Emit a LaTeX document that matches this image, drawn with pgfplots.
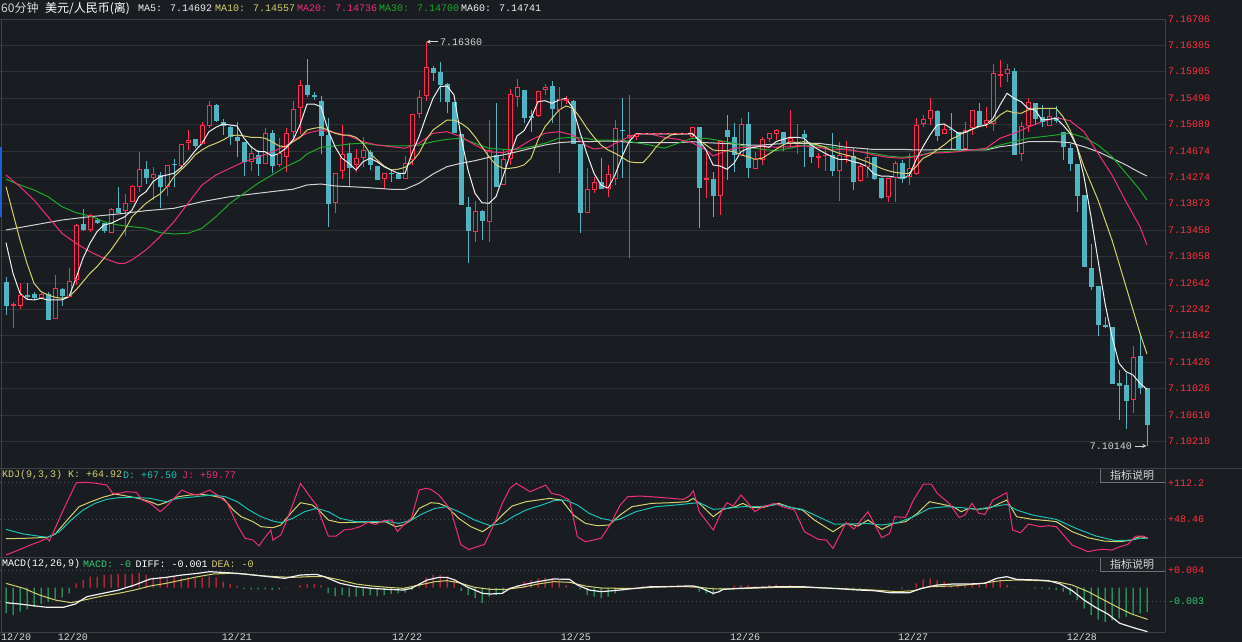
\documentclass[border=0pt]{standalone}
\usepackage{fontspec}
\usepackage{pgfplots}
\usepackage{pgfplotstable}
\pgfplotsset{compat=1.18}
\usetikzlibrary{arrows.meta}
\newfontfamily\mono{Liberation Mono}
\newfontfamily\cjk{Noto Sans CJK SC}

\definecolor{bg}{RGB}{25,28,33}
\definecolor{gridc}{RGB}{47,50,55}
\definecolor{dotc}{RGB}{72,75,80}
\definecolor{framec}{RGB}{62,65,71}
\definecolor{cred}{RGB}{255,45,75}
\definecolor{ccyan}{RGB}{80,180,193}
\definecolor{lblred}{RGB}{255,50,60}
\definecolor{mawhite}{RGB}{240,240,240}
\definecolor{mayel}{RGB}{212,208,112}
\definecolor{mapink}{RGB}{238,48,118}
\definecolor{magreen}{RGB}{32,168,42}
\definecolor{magray}{RGB}{210,210,210}
\definecolor{kdjd}{RGB}{28,192,180}
\definecolor{macdg}{RGB}{52,200,115}
\definecolor{macdr}{RGB}{255,48,60}
\definecolor{txtc}{RGB}{215,215,215}
\definecolor{bluemark}{RGB}{28,96,214}
\definecolor{btnbg}{RGB}{30,33,38}
\definecolor{btnline}{RGB}{110,112,116}

% 60-minute candles: index, open, high, low, close
\pgfplotstableread{
k o h l c
1 7.12658 7.12735 7.12155 7.12298
2 7.12298 7.12360 7.11950 7.12309
3 7.12298 7.12643 7.12247 7.12452
4 7.12455 7.12643 7.12397 7.12443
5 7.12474 7.12514 7.12386 7.12421
6 7.12421 7.12498 7.12401 7.12463
7 7.12478 7.12514 7.12078 7.12078
8 7.12098 7.12771 7.12098 7.12555
9 7.12555 7.12566 7.12298 7.12452
10 7.12437 7.12874 7.12437 7.12674
11 7.12694 7.13556 7.12617 7.13525
12 7.13560 7.13782 7.13452 7.13468
13 7.13468 7.13709 7.13428 7.13689
14 7.13613 7.13648 7.13556 7.13571
15 7.13571 7.13571 7.13412 7.13463
16 7.13422 7.13806 7.13422 7.13782
17 7.13802 7.14130 7.13720 7.13740
18 7.13760 7.14017 7.13371 7.13874
19 7.13899 7.14151 7.13899 7.14125
20 7.14130 7.14664 7.14053 7.14387
21 7.14402 7.14530 7.14171 7.14268
22 7.14274 7.14428 7.13925 7.14310
23 7.14310 7.14361 7.13806 7.14130
24 7.14130 7.14453 7.13991 7.14453
25 7.14479 7.14551 7.14130 7.14464
26 7.14459 7.14782 7.14387 7.14782
27 7.14813 7.15002 7.14695 7.14848
28 7.14864 7.14864 7.14721 7.14771
29 7.14798 7.15130 7.14798 7.15064
30 7.15075 7.15449 7.15038 7.15372
31 7.15387 7.15402 7.15121 7.15156
32 7.15130 7.15172 7.14925 7.15079
33 7.15044 7.15069 7.14771 7.14899
34 7.14899 7.15125 7.14591 7.14838
35 7.14822 7.14822 7.14299 7.14514
36 7.14514 7.14756 7.14371 7.14644
37 7.14618 7.14695 7.14299 7.14490
38 7.14490 7.15029 7.14479 7.14952
39 7.14952 7.15002 7.14336 7.14453
40 7.14474 7.14875 7.14438 7.14644
41 7.14591 7.15029 7.14361 7.14952
42 7.14982 7.15449 7.14848 7.15321
43 7.15352 7.15772 7.14941 7.15687
44 7.15695 7.16095 7.15515 7.15541
45 7.15541 7.15587 7.15464 7.15515
46 7.15449 7.15526 7.14633 7.14925
47 7.14925 7.15182 7.13514 7.13874
48 7.13883 7.14336 7.13730 7.14336
49 7.14376 7.15079 7.14244 7.14628
50 7.14644 7.14798 7.14141 7.14418
51 7.14474 7.14710 7.14361 7.14567
52 7.14576 7.14890 7.14438 7.14679
53 7.14668 7.14695 7.14387 7.14464
54 7.14448 7.14448 7.14233 7.14244
55 7.14259 7.14336 7.14090 7.14336
56 7.14341 7.14398 7.14207 7.14325
57 7.14325 7.14361 7.14244 7.14259
58 7.14259 7.14602 7.14259 7.14490
59 7.14541 7.15244 7.14464 7.15244
60 7.15259 7.15618 7.15192 7.15506
61 7.15526 7.16360 7.15453 7.15967
62 7.15952 7.15987 7.15761 7.15890
63 7.15895 7.16044 7.15438 7.15695
64 7.15710 7.15721 7.15259 7.15438
65 7.15438 7.15438 7.14961 7.14961
66 7.14941 7.14941 7.13848 7.13848
67 7.13817 7.13976 7.12951 7.13463
68 7.13437 7.13914 7.13283 7.13745
69 7.13756 7.13771 7.13309 7.13602
70 7.13591 7.15156 7.13283 7.14679
71 7.14618 7.15422 7.14130 7.14130
72 7.14156 7.14705 7.14156 7.14541
73 7.14556 7.15633 7.14464 7.15541
74 7.15515 7.15783 7.15361 7.15660
75 7.15618 7.15618 7.15105 7.15192
76 7.15210 7.15310 7.14976 7.15202
77 7.15218 7.15592 7.15198 7.15592
78 7.15629 7.15710 7.15541 7.15660
79 7.15680 7.15761 7.15110 7.15336
80 7.15321 7.15669 7.14345 7.15475
81 7.15449 7.15526 7.15402 7.15464
82 7.15453 7.15464 7.14798 7.14798
83 7.14782 7.14782 7.13412 7.13730
84 7.13730 7.14413 7.13730 7.14079
85 7.14090 7.14284 7.14037 7.14197
86 7.14197 7.14567 7.14094 7.14105
87 7.14105 7.14464 7.13966 7.14310
88 7.14248 7.15156 7.14156 7.15029
89 7.14995 7.15495 7.14264 7.14987
90 7.14890 7.15541 7.13032 7.14921
91 7.14902 7.14956 7.14848 7.14933
92 7.14941 7.14941 7.14941 7.14941
93 7.14941 7.14941 7.14941 7.14941
94 7.14941 7.14941 7.14941 7.14941
95 7.14941 7.14941 7.14941 7.14941
96 7.14941 7.14941 7.14941 7.14941
97 7.14941 7.14941 7.14941 7.14941
98 7.14941 7.14941 7.14941 7.14941
99 7.14899 7.15053 7.14884 7.15038
100 7.15053 7.15053 7.13490 7.14114
101 7.14241 7.14695 7.13951 7.14256
102 7.14248 7.14361 7.13668 7.13991
103 7.13991 7.14822 7.13694 7.14822
104 7.15002 7.15233 7.14233 7.14899
105 7.14890 7.15105 7.14361 7.14618
106 7.14618 7.15182 7.14618 7.15090
107 7.15095 7.15275 7.14259 7.14422
108 7.14413 7.14668 7.14398 7.14556
109 7.14541 7.14899 7.14464 7.14859
110 7.14875 7.14941 7.14822 7.14941
111 7.14952 7.15018 7.14848 7.14987
112 7.14976 7.14976 7.14684 7.14798
113 7.14822 7.15310 7.14736 7.14875
114 7.14748 7.15095 7.14628 7.14764
115 7.14941 7.15002 7.14438 7.14890
116 7.14798 7.14798 7.14499 7.14591
117 7.14575 7.14644 7.14413 7.14587
118 7.14602 7.14756 7.14376 7.14613
119 7.14618 7.14952 7.14294 7.14376
120 7.14376 7.14822 7.13910 7.14607
121 7.14587 7.14833 7.14499 7.14598
122 7.14602 7.14721 7.14079 7.14207
123 7.14222 7.14499 7.14207 7.14448
124 7.14438 7.14721 7.14284 7.14582
125 7.14591 7.14591 7.14233 7.14248
126 7.14268 7.14268 7.13940 7.13960
127 7.13976 7.14259 7.13899 7.14259
128 7.14268 7.14525 7.13899 7.14490
129 7.14490 7.14541 7.14191 7.14259
130 7.14284 7.14644 7.14156 7.14413
131 7.14336 7.15182 7.14310 7.15079
132 7.15095 7.15233 7.15044 7.15167
133 7.15182 7.15490 7.15079 7.15295
134 7.15295 7.15310 7.14838 7.14925
135 7.14952 7.15079 7.14936 7.15013
136 7.15022 7.15259 7.14705 7.15013
137 7.14976 7.14976 7.14695 7.14695
138 7.14710 7.15130 7.14710 7.15002
139 7.15038 7.15310 7.14925 7.15295
140 7.15295 7.15413 7.15079 7.15079
141 7.15095 7.15352 7.15038 7.15141
142 7.15105 7.16018 7.14992 7.15875
143 7.15841 7.16080 7.15660 7.15852
144 7.15875 7.16018 7.15746 7.15926
145 7.15910 7.15952 7.14618 7.14618
146 7.14644 7.15130 7.14525 7.15053
147 7.15079 7.15490 7.14976 7.15429
148 7.15413 7.15413 7.15079 7.15182
149 7.15207 7.15387 7.15053 7.15130
150 7.15079 7.15321 7.15064 7.15207
151 7.15207 7.15372 7.15115 7.15156
152 7.14976 7.14976 7.14541 7.14745
153 7.14730 7.14782 7.14376 7.14490
154 7.14479 7.14479 7.13745 7.13991
155 7.14002 7.14002 7.12899 7.12899
156 7.12874 7.13243 7.12540 7.12591
157 7.12602 7.12602 7.11837 7.12001
158 7.11994 7.12129 7.11950 7.11978
159 7.11975 7.11975 7.11093 7.11093
160 7.11113 7.11309 7.10539 7.11067
161 7.11078 7.11267 7.10401 7.10836
162 7.10858 7.11678 7.10642 7.11504
163 7.11524 7.11873 7.10935 7.11036
164 7.11027 7.11027 7.10140 7.10462
}\candles

\pgfplotstableread{
k v
1 7.13268
2 7.12797
3 7.12489
4 7.12397
5 7.12386
6 7.12412
7 7.12386
8 7.12386
9 7.12386
10 7.12437
11 7.12720
12 7.13028
13 7.13259
14 7.13437
15 7.13540
16 7.13566
17 7.13617
18 7.13668
19 7.13771
20 7.13976
21 7.14053
22 7.14207
23 7.14284
24 7.14310
25 7.14336
26 7.14422
27 7.14541
28 7.14679
29 7.14798
30 7.14976
31 7.15044
32 7.15095
33 7.15079
34 7.15064
35 7.14875
36 7.14745
37 7.14668
38 7.14668
39 7.14602
40 7.14644
41 7.14721
42 7.14848
43 7.15079
44 7.15402
45 7.15402
46 7.15361
47 7.15002
48 7.14745
49 7.14567
50 7.14490
51 7.14387
52 7.14514
53 7.14567
54 7.14514
55 7.14438
56 7.14387
57 7.14336
58 7.14336
59 7.14644
60 7.14899
61 7.15207
62 7.15490
63 7.15669
64 7.15680
65 7.15541
66 7.14899
67 7.14387
68 7.14028
69 7.13883
70 7.13874
71 7.13976
72 7.14284
73 7.14618
74 7.14910
75 7.14992
76 7.15182
77 7.15438
78 7.15453
79 7.15413
80 7.15464
81 7.15490
82 7.15336
83 7.14964
84 7.14633
85 7.14336
86 7.14156
87 7.14105
88 7.14310
89 7.14591
90 7.14822
91 7.14941
98 7.14941
99 7.14952
100 7.14848
101 7.14695
102 7.14464
103 7.14448
104 7.14398
105 7.14490
106 7.14668
107 7.14721
108 7.14736
109 7.14756
110 7.14736
111 7.14822
112 7.14859
113 7.14890
114 7.14890
115 7.14875
116 7.14771
117 7.14705
118 7.14644
119 7.14591
120 7.14551
121 7.14551
122 7.14514
123 7.14490
124 7.14438
125 7.14325
126 7.14294
127 7.14294
128 7.14274
129 7.14259
130 7.14294
131 7.14541
132 7.14745
133 7.14925
134 7.15079
135 7.15095
136 7.15029
137 7.14952
138 7.14961
139 7.15013
140 7.15064
141 7.15079
142 7.15182
143 7.15387
144 7.15567
145 7.15490
146 7.15438
147 7.15336
148 7.15310
149 7.15156
150 7.15167
151 7.15182
152 7.15079
153 7.14952
154 7.14745
155 7.14284
156 7.13668
157 7.13002
158 7.12335
159 7.11821
160 7.11412
161 7.11283
162 7.11232
163 7.11104
164 7.11012
}\mafive

\pgfplotstableread{
k v
1 7.14130
2 7.13720
3 7.13309
4 7.12951
5 7.12643
6 7.12514
7 7.12463
8 7.12428
9 7.12412
10 7.12437
11 7.12540
12 7.12668
13 7.12797
14 7.12899
15 7.13028
16 7.13156
17 7.13309
18 7.13463
19 7.13668
20 7.13771
21 7.13874
22 7.13951
23 7.14017
24 7.14130
25 7.14284
26 7.14387
27 7.14490
28 7.14618
29 7.14695
30 7.14756
31 7.14798
32 7.14848
33 7.14910
34 7.14925
35 7.14910
36 7.14890
37 7.14890
38 7.14875
39 7.14822
40 7.14756
41 7.14745
42 7.14822
43 7.14887
44 7.15002
45 7.15029
46 7.15044
47 7.15002
48 7.14952
49 7.14925
50 7.14925
51 7.14890
52 7.14798
53 7.14644
54 7.14541
55 7.14448
56 7.14387
57 7.14398
58 7.14428
59 7.14514
60 7.14644
61 7.14848
62 7.15002
63 7.15079
64 7.15156
65 7.15156
66 7.15105
67 7.15029
68 7.14899
69 7.14745
70 7.14591
71 7.14464
72 7.14413
73 7.14413
74 7.14428
75 7.14464
76 7.14567
77 7.14848
78 7.15053
79 7.15182
80 7.15310
81 7.15372
82 7.15336
83 7.15195
84 7.15029
85 7.14890
86 7.14771
87 7.14695
88 7.14644
89 7.14582
90 7.14514
91 7.14499
92 7.14499
93 7.14618
94 7.14756
95 7.14859
96 7.14925
97 7.14941
98 7.14941
99 7.14941
100 7.14848
101 7.14771
102 7.14695
103 7.14684
104 7.14684
105 7.14668
106 7.14618
107 7.14591
108 7.14551
109 7.14567
110 7.14633
111 7.14705
112 7.14771
113 7.14822
114 7.14807
115 7.14822
116 7.14798
117 7.14771
118 7.14736
119 7.14684
120 7.14644
121 7.14618
122 7.14591
123 7.14551
124 7.14514
125 7.14464
126 7.14413
127 7.14376
128 7.14351
129 7.14336
130 7.14336
131 7.14438
132 7.14567
133 7.14618
134 7.14695
135 7.14771
136 7.14859
137 7.14910
138 7.14976
139 7.15013
140 7.15053
141 7.15079
142 7.15130
143 7.15233
144 7.15299
145 7.15269
146 7.15259
147 7.15310
148 7.15336
149 7.15336
150 7.15336
151 7.15336
152 7.15207
153 7.15002
154 7.14745
155 7.14438
156 7.14182
157 7.13925
158 7.13617
159 7.13309
160 7.12951
161 7.12591
162 7.12232
163 7.11873
164 7.11555
}\maten

\pgfplotstableread{
k v
1 7.14310
3 7.14130
5 7.13925
7 7.13668
9 7.13412
11 7.13259
13 7.13129
15 7.13028
17 7.12951
18 7.12951
19 7.13002
21 7.13156
23 7.13360
25 7.13591
27 7.13874
29 7.14156
31 7.14310
33 7.14413
35 7.14514
37 7.14582
39 7.14668
41 7.14756
42 7.14848
44 7.14952
46 7.15002
48 7.14961
50 7.14910
52 7.14822
54 7.14771
56 7.14745
58 7.14721
60 7.14798
62 7.14952
64 7.14976
66 7.14899
68 7.14771
70 7.14668
72 7.14653
74 7.14721
76 7.14848
78 7.14952
80 7.14976
82 7.14925
84 7.14756
85 7.14710
87 7.14736
89 7.14848
91 7.14941
93 7.14941
95 7.14890
97 7.14859
99 7.14807
101 7.14695
102 7.14602
103 7.14644
105 7.14721
107 7.14736
109 7.14756
111 7.14736
113 7.14745
115 7.14756
117 7.14736
119 7.14695
121 7.14705
123 7.14668
125 7.14618
127 7.14582
129 7.14567
131 7.14591
133 7.14644
135 7.14653
137 7.14668
139 7.14695
141 7.14721
143 7.14875
145 7.14952
147 7.15044
149 7.15130
151 7.15192
153 7.15145
155 7.14976
157 7.14644
159 7.14310
161 7.13899
163 7.13514
164 7.13232
}\matwenty

\pgfplotstableread{
k v
1 7.14244
3 7.14156
5 7.14079
7 7.13976
9 7.13822
11 7.13730
13 7.13679
15 7.13591
17 7.13540
19 7.13514
21 7.13490
23 7.13422
25 7.13402
27 7.13412
29 7.13490
31 7.13668
33 7.13874
35 7.14028
37 7.14182
39 7.14310
41 7.14438
43 7.14541
44 7.14633
46 7.14736
48 7.14756
50 7.14787
52 7.14798
54 7.14771
56 7.14756
58 7.14756
60 7.14771
62 7.14822
64 7.14859
66 7.14875
68 7.14798
70 7.14721
72 7.14705
74 7.14705
76 7.14745
78 7.14798
80 7.14875
82 7.14890
84 7.14872
85 7.14848
87 7.14848
89 7.14848
91 7.14807
93 7.14771
95 7.14721
97 7.14798
99 7.14875
101 7.14875
103 7.14838
105 7.14798
107 7.14736
109 7.14705
111 7.14684
113 7.14721
115 7.14771
117 7.14756
119 7.14736
121 7.14705
123 7.14668
125 7.14641
127 7.14602
129 7.14582
131 7.14602
133 7.14653
135 7.14668
137 7.14684
139 7.14695
141 7.14705
143 7.14771
145 7.14822
147 7.14875
149 7.14899
151 7.14925
153 7.14952
155 7.14890
157 7.14771
159 7.14591
161 7.14336
163 7.14079
164 7.13925
}\mathirty

\pgfplotstableread{
k v
1 7.13463
5 7.13540
9 7.13617
13 7.13668
17 7.13709
21 7.13760
25 7.13797
29 7.13899
33 7.13976
37 7.14028
41 7.14079
42 7.14090
44 7.14156
46 7.14171
48 7.14141
50 7.14130
52 7.14120
54 7.14105
56 7.14090
58 7.14090
60 7.14182
62 7.14325
64 7.14438
66 7.14490
68 7.14530
70 7.14582
72 7.14618
74 7.14668
76 7.14721
78 7.14771
80 7.14807
82 7.14822
84 7.14822
87 7.14833
89 7.14822
91 7.14807
97 7.14807
99 7.14822
101 7.14807
103 7.14798
105 7.14787
107 7.14771
109 7.14771
111 7.14787
113 7.14798
117 7.14798
119 7.14771
121 7.14736
123 7.14721
125 7.14702
129 7.14705
131 7.14695
133 7.14695
135 7.14705
137 7.14705
139 7.14695
141 7.14695
143 7.14745
145 7.14771
147 7.14822
151 7.14822
153 7.14807
155 7.14745
157 7.14668
159 7.14567
161 7.14464
163 7.14345
164 7.14294
}\masixty

\pgfplotstableread{
k v
0.99 -13.8
2.97 -4.2
4.66 4.6
5.79 9.4
6.81 15.3
7.2 10.6
9.18 64.6
11.05 112.2
12.57 112.8
13.98 111.0
15.4 108.1
16.24 93.6
17.09 93.6
18.22 96.5
19.63 95.4
20.48 82.0
21.61 76.2
23.02 61.7
23.87 70.4
25.0 84.9
26.13 99.4
27.26 93.6
28.39 90.7
30.09 99.4
31.2 90.7
32.63 76.2
34.04 38.5
35.17 15.3
36.3 12.3
37.15 1.9
37.71 12.3
38.84 29.8
39.13 12.3
40.26 21.1
41.67 64.6
43.08 111.0
44.78 82.0
45.34 73.3
47.04 19.3
48.17 19.3
49.3 29.8
50.43 31.5
51.56 35.6
52.68 43.1
53.8 39.6
54.9 46.0
56.1 47.2
56.9 26.9
57.8 38.5
58.9 50.1
60.03 99.4
60.9 102.3
61.7 100.6
62.85 90.7
64.55 64.6
65.96 4.6
67.1 -4.2
68.5 1.6
69.35 4.6
70.77 41.4
71.9 76.2
73.0 102.3
73.87 111.0
74.7 105.2
75.85 96.5
76.98 102.3
78.1 108.1
78.95 93.6
80.1 90.7
81.5 82.0
82.63 18.2
83.76 9.4
84.89 12.3
86.0 15.3
87.43 41.4
88.71 73.0
89.84 87.8
91.54 89.0
94.38 86.7
97.78 83.2
98.63 89.0
99.19 98.3
100.04 61.7
102.03 29.8
103.44 67.5
104.01 77.4
104.86 71.6
106.0 90.7
106.84 79.1
107.98 61.7
109.11 70.4
110.81 76.2
111.94 70.4
113.64 64.6
115.06 26.9
117.04 13.5
118.18 12.3
119.14 -2.2
121.01 42.5
122.14 31.5
124.13 61.7
126.11 16.4
127.24 24.0
127.98 53.0
129.51 51.8
130.64 82.0
132.06 109.9
133.19 109.9
134.04 93.6
135.74 76.2
137.16 51.8
138.01 55.9
138.97 76.2
139.99 58.8
140.84 57.0
141.98 82.0
143.96 94.8
144.81 29.8
145.94 25.1
147.08 40.2
148.78 35.6
149.91 37.3
151.04 35.6
153.31 3.6
155.58 -8.0
156.71 -5.1
157.84 -3.9
158.98 -5.1
160.11 0.7
161.24 4.6
162.38 19.1
163.51 19.1
164.08 15.3
}\kdjJ

\pgfplotstableread{
k v
0.99 14.7
3.53 15.3
6.92 17.0
8.05 22.8
9.75 47.2
11.44 70.4
13.14 79.1
14.83 86.7
16.53 92.5
18.22 89.0
19.92 84.9
21.61 79.1
22.74 73.3
23.87 77.9
25.57 87.8
27.26 90.7
28.96 91.9
30.65 89.0
32.06 84.9
33.48 64.6
34.6 53.0
36.3 44.3
37.43 35.6
39.13 33.8
40.26 38.5
41.67 58.8
43.08 77.4
44.78 73.3
45.9 61.7
47.04 47.2
48.73 42.5
50.43 43.1
52.12 43.7
53.8 43.1
55.23 44.3
56.64 35.6
57.77 38.5
58.9 47.2
60.03 67.5
61.7 77.4
62.85 76.2
63.98 70.4
65.68 50.1
67.4 35.6
69.07 26.9
70.48 38.5
71.9 55.9
73.3 71.6
75.28 79.1
76.98 82.0
78.68 84.9
80.37 82.0
82.06 55.9
83.76 41.4
85.45 37.3
87.15 38.5
88.71 55.9
90.41 70.4
93.24 76.2
96.08 77.4
98.34 79.1
99.19 84.9
100.04 76.2
102.03 53.0
103.44 65.8
105.14 70.4
106.28 76.2
107.41 68.7
109.11 69.2
111.38 76.2
113.08 69.2
114.78 64.6
116.48 47.2
119.14 26.9
121.01 41.4
122.71 36.7
124.13 47.2
126.11 30.9
127.81 41.4
129.51 44.3
131.21 58.8
132.91 79.1
134.61 75.0
136.31 70.4
137.44 61.7
138.58 67.5
139.71 65.8
141.41 67.5
143.96 82.0
145.38 53.0
147.64 48.3
149.91 46.0
151.04 44.3
153.31 26.9
155.58 16.4
157.84 10.6
160.11 9.4
161.81 12.3
162.94 18.2
164.08 16.4
}\kdjK

\pgfplotstableread{
k v
0.99 30.9
3.53 22.8
6.92 17.0
8.62 26.9
10.31 47.2
12.01 64.6
13.7 76.2
15.4 83.2
17.09 86.1
19.35 86.7
21.61 84.9
23.87 79.1
25.57 84.9
27.26 86.7
28.96 89.0
30.65 90.7
32.35 87.8
34.04 79.1
35.74 64.6
37.43 53.0
39.13 45.4
40.26 42.5
41.95 50.1
43.65 61.7
45.34 67.5
47.04 61.7
48.73 50.1
51.0 44.3
53.25 44.3
55.51 44.3
57.2 41.4
58.9 47.2
60.6 58.8
62.29 67.5
63.98 70.4
65.68 61.7
67.94 47.2
70.2 37.3
71.9 41.4
73.59 54.1
75.28 64.6
77.54 73.3
79.24 80.8
80.93 82.0
82.63 73.3
84.32 58.8
86.02 50.1
87.71 46.0
88.71 48.9
90.98 61.7
93.81 70.4
96.64 73.3
98.91 76.2
100.04 77.4
102.03 65.8
104.01 67.5
106.28 70.4
108.54 70.4
111.38 74.5
113.08 69.2
114.78 65.8
117.04 52.9
119.31 40.2
121.58 40.2
123.84 41.4
126.11 38.5
128.38 42.5
130.64 53.0
132.91 67.5
135.18 70.4
137.44 68.7
139.71 65.8
141.98 70.4
143.96 74.5
145.38 64.6
147.64 55.9
151.04 48.3
153.87 32.6
156.71 19.3
159.54 11.2
161.81 12.3
162.94 15.3
164.08 15.3
}\kdjD

\pgfplotstableread{
k v
0.99 -0.00338
2.97 -0.00368
5.23 -0.00413
6.92 -0.00443
9.18 -0.00443
10.88 -0.00368
12.57 -0.00202
14.83 -0.00127
17.09 -0.00052
19.35 0.00061
21.61 0.00197
23.87 0.00234
26.13 0.00287
28.39 0.00325
30.09 0.00362
31.78 0.00347
34.04 0.00325
36.3 0.00287
38.56 0.00249
40.82 0.00212
43.08 0.00287
45.34 0.00302
46.47 0.00249
48.73 0.00099
50.99 0.00024
53.25 -0.00014
55.51 -0.00037
57.77 -0.00052
58.9 -0.00014
61.16 0.00174
62.85 0.00234
63.98 0.00234
65.11 0.00174
66.81 0.00024
69.07 -0.00127
70.2 -0.00142
71.9 -0.00127
73.02 -0.00014
74.72 0.00061
76.98 0.00137
79.24 0.00197
81.5 0.00189
82.63 0.00061
84.32 -0.00052
86.02 -0.00089
87.71 -0.00067
88.71 -0.00052
90.98 -0.00014
93.24 0.00024
95.51 0.00024
98.34 0.00039
99.19 0.00039
100.04 0.00009
101.18 -0.00067
102.03 -0.00127
102.88 -0.00089
103.44 -0.00037
105.71 -0.00014
107.98 0.00001
111.38 0.00024
114.78 0.00024
117.04 0.00001
119.88 -0.00022
122.71 -0.00052
124.98 -0.00067
127.24 -0.00112
130.08 -0.00112
131.78 -0.00014
134.04 0.00061
136.31 0.00084
138.58 0.00084
140.84 0.00099
142.54 0.00212
143.96 0.00249
145.38 0.00189
148.21 0.00174
149.91 0.00159
151.61 0.00084
153.31 -0.00067
155.01 -0.00278
156.71 -0.00450
158.41 -0.00594
160.11 -0.00804
162.38 -0.00917
164.08 -0.00993
}\diff

\pgfplotstableread{
k v
0.99 0.00099
3.53 -0.00014
5.79 -0.00165
8.05 -0.00278
10.31 -0.00338
12.57 -0.00263
14.83 -0.00187
17.09 -0.00127
19.35 -0.00052
21.61 0.00039
23.87 0.00099
26.13 0.00174
28.39 0.00249
30.65 0.00310
32.91 0.00325
35.17 0.00310
37.43 0.00272
39.69 0.00249
41.95 0.00234
44.21 0.00249
46.47 0.00249
48.73 0.00174
50.99 0.00084
53.25 0.00039
55.51 0.00009
57.77 -0.00014
60.03 0.00061
62.29 0.00137
63.98 0.00159
65.68 0.00114
67.94 0.00009
70.2 -0.00037
72.46 -0.00037
74.72 0.00009
76.98 0.00084
79.24 0.00137
81.5 0.00122
83.76 0.00039
86.02 -0.00007
88.73 -0.00014
90.98 -0.00014
93.24 0.00009
95.51 0.00024
98.34 0.00024
100.04 0.00009
102.31 -0.00029
105.71 -0.00022
111.38 0.00009
114.78 0.00009
117.04 0.00001
120.44 -0.00022
124.98 -0.00052
128.38 -0.00089
130.64 -0.00067
132.91 0.00024
136.31 0.00039
139.71 0.00084
143.11 0.00159
145.38 0.00174
148.78 0.00159
151.04 0.00137
153.31 0.00061
155.58 -0.00089
157.84 -0.00278
160.11 -0.00466
161.81 -0.00594
164.08 -0.00714
}\dea

\pgfplotstableread{
k v
1 -0.0058
2 -0.0062
3 -0.0054
4 -0.0049
5 -0.0043
6 -0.0037
7 -0.0032
8 -0.0026
9 -0.0022
10 -0.0013
11 0.0010
12 0.0017
13 0.0025
14 0.0025
15 0.0029
16 0.0030
17 0.0031
18 0.0031
19 0.0032
20 0.0034
21 0.0029
22 0.0023
23 0.0025
24 0.0021
25 0.0025
26 0.0021
27 0.0023
28 0.0021
29 0.0023
30 0.0025
31 0.0023
32 0.0014
33 0.0008
34 0.0004
35 -0.0003
36 -0.0004
37 -0.0004
38 -0.0004
39 -0.0005
40 -0.0004
41 -0.0001
42 0.0001
43 0.0006
44 0.0008
45 0.0008
46 0.0006
47 -0.0013
48 -0.0019
49 -0.0017
50 -0.0020
51 -0.0020
52 -0.0019
53 -0.0017
54 -0.0019
55 -0.0017
56 -0.0014
57 -0.0013
58 -0.0011
59 -0.0005
60 0.0006
61 0.0023
62 0.0029
63 0.0029
64 0.0025
65 0.0016
66 -0.0007
67 -0.0017
68 -0.0024
69 -0.0035
70 -0.0020
71 -0.0017
72 -0.0011
73 0.0001
74 0.0006
75 0.0014
76 0.0017
77 0.0021
78 0.0023
79 0.0021
80 0.0019
81 0.0006
82 -0.0001
83 -0.0004
84 -0.0017
85 -0.0020
86 -0.0024
87 -0.0020
88 -0.0013
89 -0.0006
90 -0.0002
91 0.0002
92 0.0005
93 0.0005
94 0.0004
95 0.0005
96 0.0004
97 0.0005
98 0.0004
99 0.0004
100 -0.0009
101 -0.0013
102 -0.0016
103 -0.0006
104 0.0000
105 0.0005
106 0.0006
107 0.0006
108 0.0004
109 0.0005
110 0.0006
111 0.0007
112 0.0005
113 0.0006
114 0.0005
115 0.0004
116 0.0002
117 0.0001
118 0.0001
119 -0.0001
120 -0.0002
121 0.0001
122 -0.0002
123 -0.0002
124 0.0001
125 0.0001
126 -0.0001
127 -0.0001
128 0.0001
129 -0.0002
130 0.0001
131 0.0010
132 0.0019
133 0.0021
134 0.0017
135 0.0014
136 0.0010
137 0.0006
138 0.0011
139 0.0011
140 0.0010
141 0.0013
142 0.0019
143 0.0017
144 0.0006
145 0.0002
146 0.0001
147 0.0001
148 -0.0002
149 -0.0002
150 -0.0004
151 -0.0005
152 -0.0009
153 -0.0016
154 -0.0028
155 -0.0047
156 -0.0062
157 -0.0072
158 -0.0077
159 -0.0074
160 -0.0070
161 -0.0066
162 -0.0061
163 -0.0058
164 -0.0055
}\macdhist

\pgfplotsset{
  panel/.style={scale only axis, width=1165pt, xmin=0.142857, xmax=166.571,
    anchor=south west, axis line style={draw=none}, tick style={draw=none},
    xtick=\empty, ytick pos=right, yticklabel pos=right,
    scaled y ticks=false, scaled x ticks=false,
    yticklabel style={font=\mono\fontsize{10}{10}\selectfont, text=lblred,
      anchor=west, inner sep=0pt, xshift=3pt},
    ymajorgrids},
  up/.style={x filter/.expression={\thisrow{c}>=\thisrow{o} ? x : nan}},
  dn/.style={x filter/.expression={\thisrow{c}<\thisrow{o} ? x : nan}},
  ebar/.style={draw=none, mark=none, forget plot,
    error bars/.cd, y dir=plus, y explicit, error mark=none,
    error bar style={line cap=butt, #1}},
  maline/.style={#1, line width=1pt, mark=none, forget plot},
}

\begin{document}
\begin{tikzpicture}[x=1pt,y=1pt]
\fill[bg] (0,0) rectangle (1242,642);

% ---------- price panel ----------
\begin{axis}[panel, at={(0pt,174pt)}, height=448.7pt,
  ymin=7.09800, ymax=7.16706,
  ytick={7.10210,7.10610,7.11026,7.11426,7.11842,7.12242,7.12642,7.13058,7.13458,7.13873,7.14274,7.14674,7.15089,7.15490,7.15905,7.16305,7.16706},
  yticklabels={7.10210,7.10610,7.11026,7.11426,7.11842,7.12242,7.12642,7.13058,7.13458,7.13873,7.14274,7.14674,7.15089,7.15490,7.15905,7.16305,7.16706},
  major grid style={gridc, line width=0.9pt}]
% wicks
\addplot[up, ebar={draw=cred, line width=1pt}]
  table[x=k, y=l, y error plus expr=\thisrow{h}-\thisrow{l}] {\candles};
\addplot[dn, ebar={draw=ccyan, line width=1pt}]
  table[x=k, y=l, y error plus expr=\thisrow{h}-\thisrow{l}] {\candles};
% falling bodies (filled)
\addplot[dn, ebar={draw=ccyan, line width=5pt}]
  table[x=k, y=c, y error plus expr=\thisrow{o}-\thisrow{c}] {\candles};
\addplot[dn, only marks, mark=-, mark size=2.5pt, forget plot, mark options={draw=ccyan, line width=1pt}]
  table[x=k, y=c] {\candles};
% rising bodies (hollow)
\addplot[up, ebar={draw=cred, line width=5pt}]
  table[x=k, y=o, y error plus expr=\thisrow{c}-\thisrow{o}] {\candles};
\addplot[up, ebar={draw=bg, line width=3pt}]
  table[x=k, y=o, y error plus expr=\thisrow{c}-\thisrow{o}] {\candles};
\addplot[up, only marks, mark=-, mark size=2.5pt, forget plot, mark options={draw=cred, line width=1pt}]
  table[x=k, y=o] {\candles};
\addplot[up, only marks, mark=-, mark size=2.5pt, forget plot, mark options={draw=cred, line width=1pt}]
  table[x=k, y=c] {\candles};
% moving averages
\addplot[maline=magray] table[x=k, y=v] {\masixty};
\addplot[maline=magreen] table[x=k, y=v] {\mathirty};
\addplot[maline=mapink] table[x=k, y=v] {\matwenty};
\addplot[maline=mayel] table[x=k, y=v] {\maten};
\addplot[maline=mawhite] table[x=k, y=v] {\mafive};
% extremes
\draw[txtc, line width=0.8pt, -{Stealth[length=4pt,width=4pt]}]
  ([xshift=12pt]axis cs:61,7.16360) -- ([xshift=0.6pt]axis cs:61,7.16360);
\node[txtc, anchor=west, inner sep=0pt, font=\mono\fontsize{10}{10}\selectfont]
  at ([xshift=14pt]axis cs:61,7.16360) {7.16360};
\draw[txtc, line width=0.8pt, -{Stealth[length=4pt,width=4pt]}]
  ([xshift=-12pt]axis cs:164,7.10140) -- ([xshift=-0.6pt]axis cs:164,7.10140);
\node[txtc, anchor=east, inner sep=0pt, font=\mono\fontsize{10}{10}\selectfont]
  at ([xshift=-15pt]axis cs:164,7.10140) {7.10140};
\end{axis}

% ---------- KDJ panel ----------
\begin{axis}[panel, at={(0pt,84.7pt)}, height=89.3pt,
  ymin=-17.7, ymax=137.8,
  ytick={48.46,112.2}, yticklabels={+48.46,+112.2},
  major grid style={dotc, line width=0.9pt, dash pattern=on 1pt off 3pt}]
\addplot[maline=mayel] table[x=k, y=v] {\kdjK};
\addplot[maline=kdjd] table[x=k, y=v] {\kdjD};
\addplot[maline=mapink] table[x=k, y=v] {\kdjJ};
\end{axis}

% ---------- MACD panel ----------
\begin{axis}[panel, at={(0pt,10pt)}, height=74.7pt,
  ymin=-0.0100, ymax=0.00687,
  ytick={-0.003,0.004},
  yticklabels={\textcolor{macdg}{-0.003},\textcolor{lblred}{+0.004}},
  major grid style={dotc, line width=0.9pt, dash pattern=on 1pt off 3pt},
  xtick={2.43,10.57,34,58.3,82.4,106.6,130.6,154.7},
  xticklabels={12/20,12/20,12/21,12/22,12/25,12/26,12/27,12/28},
  xticklabel style={font=\mono\fontsize{10}{10}\selectfont, text=txtc,
    anchor=center, inner sep=0pt, yshift=-5pt}]
\addplot[ybar, bar width=1pt, bar shift=0pt, fill=macdr, draw=none, forget plot,
  restrict y to domain=0:1] table[x=k, y=v] {\macdhist};
\addplot[ybar, bar width=1pt, bar shift=0pt, fill=macdg, draw=none, forget plot,
  restrict y to domain=-1:0] table[x=k, y=v] {\macdhist};
\addplot[maline=mayel] table[x=k, y=v] {\dea};
\addplot[mawhite, line width=1.2pt, mark=none, forget plot] table[x=k, y=v] {\diff};
\end{axis}

% ---------- frame ----------
\draw[framec, line width=0.9pt] (0,622.7) -- (1165,622.7);
\draw[framec, line width=0.9pt] (0,174) -- (1242,174);
\draw[framec, line width=0.9pt] (0,84.7) -- (1242,84.7);
\draw[framec, line width=0.9pt] (0,10) -- (1165,10);
\draw[framec, line width=0.9pt] (1165,622.7) -- (1165,10);
\draw[framec, line width=0.9pt] (1.5,622.7) -- (1.5,10);
\fill[bluemark] (0,425.3) rectangle (2,495.3);

% ---------- buttons ----------
\foreach \yb in {159.5,70.5}{
  \fill[btnbg] (1100,\yb) rectangle (1164.5,\yb+13.5);
  \draw[btnline, line width=0.8pt] (1100,\yb+13.5) -- (1100,\yb) -- (1164.5,\yb);
  \node[txtc, inner sep=0pt, font=\cjk\fontsize{11}{11}\selectfont]
    at (1132,\yb+7) {指标说明};
}

% ---------- header ----------
\begin{scope}[every node/.style={anchor=west, inner sep=0pt}]
\node[txtc, font=\cjk\fontsize{12}{12}\selectfont] at (1,633.7) {60分钟};
\node[white, font=\cjk\fontsize{12}{12}\selectfont] at (45,633.7) {美元/人民币(离)};
\node[mawhite, font=\mono\fontsize{10}{10}\selectfont] at (138,633.5) {MA5: 7.14692};
\node[mayel, font=\mono\fontsize{10}{10}\selectfont] at (215,633.5) {MA10: 7.14557};
\node[mapink, font=\mono\fontsize{10}{10}\selectfont] at (297,633.5) {MA20: 7.14736};
\node[magreen, font=\mono\fontsize{10}{10}\selectfont] at (379,633.5) {MA30: 7.14700};
\node[mawhite, font=\mono\fontsize{10}{10}\selectfont] at (461,633.5) {MA60: 7.14741};
\node[mayel, font=\mono\fontsize{10}{10}\selectfont] at (2,167) {KDJ(9,3,3) K: +64.92};
\node[kdjd, font=\mono\fontsize{10}{10}\selectfont] at (123,167) {D: +67.50};
\node[mapink, font=\mono\fontsize{10}{10}\selectfont] at (182,167) {J: +59.77};
\node[white, font=\mono\fontsize{10}{10}\selectfont] at (2,78) {MACD(12,26,9)};
\node[macdg, font=\mono\fontsize{10}{10}\selectfont] at (83,78) {MACD: -0};
\node[white, font=\mono\fontsize{10}{10}\selectfont] at (135.5,78) {DIFF: -0.001};
\node[mayel, font=\mono\fontsize{10}{10}\selectfont] at (211.5,78) {DEA: -0};
\end{scope}

\pgfresetboundingbox
\path (0,0) rectangle (1242,642);
\end{tikzpicture}
\end{document}
